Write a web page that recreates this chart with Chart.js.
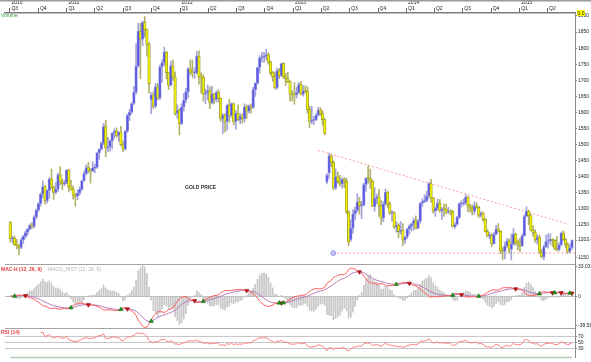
<!DOCTYPE html>
<html>
<head>
<meta charset="utf-8">
<title>Gold Price</title>
<script src="https://cdn.jsdelivr.net/npm/chart.js@4.4.1/dist/chart.umd.min.js"></script>
<style>
  html, body { margin:0; padding:0; background:#ffffff; }
  #wrap { position:relative; width:591px; height:362px; overflow:hidden; }
  #c { position:absolute; left:0; top:0; }
  .lbl { position:absolute; font-family:"Liberation Sans", Arial, sans-serif; font-size:5px; line-height:6px; white-space:nowrap; }
</style>
</head>
<body>
<div id="wrap">
  <canvas id="c" width="591" height="362"></canvas>
  <div class="lbl" style="left:1px;top:12.3px;color:#3a9a3a;">Volume</div>
  <div class="lbl" style="left:185px;top:184.3px;color:#333333;font-weight:bold;">GOLD PRICE</div>
  <div class="lbl" style="left:1px;top:266px;color:#e23c3c;font-weight:bold;">MAC-H (12, 26, 9)</div>
  <div class="lbl" style="left:48px;top:266px;color:#b4b4b4;">MACD_HIST (12, 26, 9)</div>
  <div class="lbl" style="left:1px;top:328.7px;color:#e23c3c;font-weight:bold;">RSI (14)</div>
  <div class="lbl" style="left:577px;top:10px;width:8px;height:6px;background:#ffff00;color:#222;text-align:center;">0.0</div>
</div>
<script>
// ---------- DATA (weekly OHLC, week ending Friday, first week ends 2010-07-02) ----------
const WEEK0 = '2010-07-02';

const opens = [
1258,1208,1210,1189,1188,1181,1204,1215,1227,1237,
1249,1246,1275,1297,1317,1346,1370,1326,1358,1393,
1367,1352,1362,1406,1384,1378,1380,1421,1369,1361,
1343,1340,1349,1361,1388,1410,1429,1421,1418,1428,
1429,1474,1486,1504,1556,1490,1493,1512,1536,1542,
1529,1539,1500,1486,1542,1591,1601,1628,1663,1744,
1852,1828,1880,1857,1812,1640,1655,1620,1680,1645,
1742,1755,1788,1724,1685,1745,1710,1597,1606,1565,
1617,1639,1665,1736,1725,1723,1724,1775,1711,1710,
1657,1662,1668,1630,1658,1641,1662,1644,1580,1592,
1572,1622,1591,1627,1572,1598,1578,1589,1581,1618,
1604,1620,1616,1671,1691,1740,1770,1773,1774,1780,
1757,1724,1711,1677,1730,1714,1752,1711,1704,1696,
1657,1656,1655,1662,1687,1657,1667,1666,1609,1572,
1576,1577,1592,1607,1597,1578,1385,1412,1465,1445,
1366,1400,1386,1378,1392,1386,1290,1205,1240,1285,
1296,1322,1310,1313,1376,1396,1395,1387,1308,1333,
1338,1310,1272,1315,1352,1315,1287,1288,1244,1250,
1230,1234,1203,1213,1238,1247,1254,1264,1240,1262,
1318,1323,1326,1340,1379,1334,1294,1303,1318,1294,
1301,1300,1290,1293,1291,1245,1252,1274,1316,1317,
1320,1337,1310,1303,1293,1310,1305,1280,1287,1268,
1230,1216,1218,1192,1221,1238,1231,1171,1168,1185,
1201,1175,1191,1222,1195,1194,1186,1217,1277,1293,
1279,1234,1227,1204,1212,1166,1152,1183,1199,1201,
1206,1203,1178,1174,1189,1225,1205,1189,1168,1180
];
const highs = [
1262,1215,1216,1206,1190,1210,1218,1232,1241,1254,
1258,1280,1300,1320,1350,1388,1373,1360,1398,1424,
1372,1383,1412,1431,1393,1390,1423,1424,1389,1372,
1348,1359,1369,1390,1418,1437,1445,1426,1447,1440,
1476,1488,1509,1566,1576,1523,1515,1537,1549,1552,
1541,1557,1511,1544,1594,1610,1632,1681,1814,1877,
1877,1884,1898,1860,1818,1662,1665,1690,1690,1748,
1764,1803,1790,1725,1760,1763,1726,1624,1613,1628,
1660,1675,1739,1764,1763,1739,1790,1792,1723,1718,
1672,1685,1680,1682,1660,1667,1671,1646,1597,1597,
1626,1640,1631,1630,1605,1624,1597,1596,1627,1624,
1624,1626,1678,1693,1741,1777,1788,1787,1796,1786,
1760,1728,1726,1738,1737,1754,1755,1722,1725,1699,
1667,1693,1678,1694,1696,1684,1683,1680,1620,1619,
1588,1597,1616,1615,1605,1582,1410,1474,1468,1450,
1425,1415,1405,1398,1397,1396,1295,1267,1298,1307,
1348,1336,1324,1380,1397,1434,1424,1390,1367,1346,
1361,1326,1322,1362,1356,1322,1295,1292,1261,1255,
1261,1255,1216,1240,1251,1256,1272,1279,1268,1320,
1332,1345,1355,1383,1392,1336,1307,1331,1330,1305,
1315,1315,1305,1298,1296,1257,1278,1320,1326,1332,
1345,1340,1315,1313,1322,1320,1308,1292,1291,1271,
1236,1227,1224,1227,1249,1255,1232,1180,1196,1208,
1207,1222,1239,1225,1204,1210,1223,1282,1307,1297,
1285,1248,1235,1220,1218,1174,1188,1219,1224,1223,
1209,1205,1214,1195,1228,1232,1210,1196,1191,1204
];
const lows = [
1198,1195,1187,1176,1157,1176,1192,1210,1219,1235,
1240,1241,1269,1292,1310,1335,1315,1318,1333,1365,
1330,1347,1355,1375,1360,1372,1378,1353,1359,1331,
1309,1329,1343,1358,1386,1406,1412,1380,1415,1413,
1426,1454,1484,1500,1462,1478,1480,1487,1520,1523,
1510,1496,1478,1483,1537,1575,1596,1625,1657,1741,
1705,1808,1834,1775,1660,1596,1612,1615,1640,1640,
1694,1746,1705,1671,1683,1700,1591,1582,1530,1562,
1605,1630,1647,1718,1709,1706,1720,1688,1660,1635,
1627,1640,1612,1627,1627,1633,1632,1572,1535,1540,
1545,1570,1585,1562,1548,1575,1565,1567,1571,1582,
1598,1598,1612,1650,1688,1722,1757,1756,1763,1750,
1718,1697,1673,1672,1705,1712,1705,1684,1693,1635,
1636,1626,1645,1660,1655,1651,1660,1598,1554,1565,
1562,1575,1589,1591,1560,1530,1378,1395,1432,1360,
1360,1380,1372,1365,1366,1285,1185,1200,1225,1268,
1291,1284,1270,1310,1355,1380,1364,1307,1293,1317,
1277,1251,1261,1312,1304,1283,1262,1240,1228,1211,
1222,1185,1193,1208,1221,1232,1234,1238,1239,1256,
1308,1320,1323,1334,1321,1287,1277,1297,1290,1268,
1277,1285,1285,1282,1244,1240,1250,1270,1306,1311,
1314,1292,1290,1282,1284,1302,1273,1275,1262,1228,
1213,1207,1183,1191,1220,1228,1161,1142,1145,1181,
1163,1142,1188,1187,1172,1167,1183,1216,1276,1251,
1232,1216,1197,1191,1163,1147,1142,1180,1178,1190,
1184,1173,1170,1169,1184,1202,1181,1162,1164,1175
];
const closes = [
1208,1210,1189,1188,1181,1204,1215,1227,1237,1249,
1246,1275,1297,1317,1346,1370,1326,1358,1393,1367,
1352,1362,1406,1384,1378,1380,1421,1369,1361,1343,
1340,1349,1361,1388,1410,1429,1421,1418,1428,1429,
1474,1486,1504,1556,1490,1493,1512,1536,1542,1529,
1539,1500,1486,1542,1591,1601,1628,1663,1744,1852,
1828,1880,1857,1812,1690,1655,1620,1680,1645,1742,
1755,1788,1724,1685,1745,1710,1597,1606,1565,1617,
1639,1665,1736,1725,1723,1724,1775,1711,1710,1657,
1662,1668,1630,1658,1641,1662,1644,1580,1592,1572,
1622,1591,1627,1572,1598,1578,1589,1581,1618,1604,
1620,1616,1671,1691,1740,1770,1773,1774,1780,1757,
1724,1711,1677,1730,1714,1752,1711,1704,1696,1657,
1656,1655,1662,1687,1657,1667,1666,1609,1572,1576,
1577,1592,1607,1597,1578,1535,1405,1465,1445,1366,
1400,1386,1378,1392,1386,1291,1198,1240,1285,1296,
1322,1310,1313,1376,1396,1395,1387,1308,1333,1338,
1310,1272,1315,1352,1315,1287,1288,1244,1250,1230,
1234,1203,1213,1238,1247,1254,1264,1240,1262,1318,
1323,1326,1340,1379,1334,1294,1303,1318,1294,1301,
1300,1290,1293,1291,1245,1252,1274,1316,1317,1320,
1337,1310,1303,1293,1310,1305,1280,1287,1268,1230,
1216,1218,1192,1221,1238,1231,1171,1168,1185,1201,
1175,1191,1222,1195,1194,1186,1217,1277,1293,1279,
1234,1227,1204,1212,1166,1152,1183,1199,1201,1206,
1203,1178,1174,1189,1225,1205,1189,1168,1180,1203
];

const quarterStarts = ['2010-07-01','2010-10-01','2011-01-01','2011-04-01','2011-07-01','2011-10-01',
  '2012-01-01','2012-04-01','2012-07-01','2012-10-01','2013-01-01','2013-04-01','2013-07-01','2013-10-01',
  '2014-01-01','2014-04-01','2014-07-01','2014-10-01','2015-01-01','2015-04-01'];
const quarterLabels = ['Q3','Q4','Q1','Q2','Q3','Q4','Q1','Q2','Q3','Q4','Q1','Q2','Q3','Q4','Q1','Q2','Q3','Q4','Q1','Q2'];
const yearLabels    = ['2010','','2011','','','','2012','','','','2013','','','','2014','','','','2015',''];

const priceTicks      = [1900,1850,1800,1750,1700,1650,1600,1550,1500,1450,1400,1350,1300,1250,1203.4,1150];
const priceTickLabels = ['1900','1850','1800','1750','1700','1650','1600','1550','1500','1450','1400','1350','1300','1250','1203.4','1150'];
const macdTickLabels  = ['33.03','0','-39.58'];
const rsiTicks        = [70,50,30];
const rsiTickLabels   = ['70','50','30'];

// drawn annotations (week index, price)
const trendX   = [142.0, 257.2];
const trendY   = [1482, 1253];
const supportX = [148.9, 260.4];
const supportY = [1163, 1163];

// ---------- derived series (indicators computed from closes) ----------
const FONT = '"Liberation Sans", Arial, sans-serif';
const DAY = 86400000;
const t0 = Date.parse(WEEK0 + 'T00:00:00Z');
const quarterVals = quarterStarts.map(d => (Date.parse(d + 'T00:00:00Z') - t0) / (7 * DAY));

function ema(src, n) {
  const k = 2 / (n + 1); const out = []; let e = src[0];
  src.forEach((v, i) => { e = i === 0 ? v : v * k + e * (1 - k); out.push(e); });
  return out;
}
const ema12 = ema(closes, 12), ema26 = ema(closes, 26);
const macd = closes.map((c, i) => ema12[i] - ema26[i]);
const signal = ema(macd, 9);
const hist = macd.map((m, i) => m - signal[i]);

const rsi = closes.map(() => null);
let ag = 0, al = 0;
for (let i = 1; i < closes.length; i++) {
  const ch = closes[i] - closes[i - 1];
  const g = Math.max(ch, 0), l = Math.max(-ch, 0);
  if (i <= 14) {
    ag += g; al += l;
    if (i === 14) { ag /= 14; al /= 14; rsi[i] = al === 0 ? 100 : 100 - 100 / (1 + ag / al); }
  } else {
    ag = (ag * 13 + g) / 14; al = (al * 13 + l) / 14;
    rsi[i] = al === 0 ? 100 : 100 - 100 / (1 + ag / al);
  }
}
const crossDown = [], crossUp = [];
for (let i = 1; i < hist.length; i++) {
  if (hist[i - 1] > 0 && hist[i] <= 0) crossDown.push({x: i, y: signal[i]});
  else if (hist[i - 1] < 0 && hist[i] >= 0) crossUp.push({x: i, y: signal[i]});
}
const H = Math.max(...hist.map(Math.abs)) * 1.02;
const M = Math.max(...macd.map(Math.abs)) * 1.02;

const isUp = i => closes[i] >= opens[i];
const idx = closes.map((c, i) => i);

// ---------- plugins ----------
const alignLine = {
  id: 'alignLine',
  afterLayout(chart) {
    const s = chart.scales.yLine, h = chart.scales.yMacd;
    s.top = h.top; s.bottom = h.bottom; s.height = h.height;
    s.configure();
  }
};
const decor = {
  id: 'decor',
  beforeDatasetsDraw(chart) {
    const {ctx, chartArea: a, scales} = chart;
    ctx.save();
    ctx.strokeStyle = '#a4a4a4'; ctx.lineWidth = 1;
    [scales.yMacd.top, scales.yRsi.top].forEach(y => {
      const yy = Math.round(y) + 0.5;
      ctx.beginPath(); ctx.moveTo(a.left, yy); ctx.lineTo(a.right, yy); ctx.stroke();
    });
    ctx.strokeStyle = '#9a9a9a'; ctx.lineWidth = 1.5;
    ctx.beginPath(); ctx.moveTo(0, 0.75); ctx.lineTo(591, 0.75); ctx.stroke();
    ctx.strokeStyle = '#b4ceb4'; ctx.lineWidth = 1.3;
    const x0 = scales.x.getPixelForValue(0), x1 = scales.x.getPixelForValue(closes.length - 1);
    ctx.beginPath(); ctx.moveTo(x0, 357.5); ctx.lineTo(x1, 357.5); ctx.stroke();
    ctx.restore();
  }
};

const tickFont = {family: FONT, size: 5, lineHeight: 1.2};

new Chart(document.getElementById('c'), {
  type: 'bar',
  data: {
    datasets: [
      { // wicks
        type: 'bar', yAxisID: 'yPrice', order: 3, grouped: false, barThickness: 1,
        data: idx.map(i => ({x: i, y: [lows[i], highs[i]]})),
        backgroundColor: ctx => isUp(ctx.dataIndex) ? '#a3a3da' : '#b2b26a',
        borderWidth: 0
      },
      { // bodies
        type: 'bar', yAxisID: 'yPrice', order: 2, grouped: false, barThickness: 2.6, minBarLength: 1,
        data: idx.map(i => ({x: i, y: [opens[i], closes[i]]})),
        backgroundColor: ctx => isUp(ctx.dataIndex) ? '#5858e0' : '#f0f000',
        borderColor: ctx => isUp(ctx.dataIndex) ? '#8e8ee4' : '#9c9c2c',
        borderWidth: 0.8, borderSkipped: false
      },
      { // MACD histogram
        type: 'bar', yAxisID: 'yMacd', order: 6, grouped: false, barThickness: 1,
        data: idx.map(i => ({x: i, y: hist[i]})),
        backgroundColor: '#c6c6c6', borderWidth: 0
      },
      { // MACD line
        type: 'line', yAxisID: 'yLine', order: 4,
        data: idx.map(i => ({x: i, y: macd[i]})),
        borderColor: '#ff5c5c', borderWidth: 1, pointRadius: 0, tension: 0
      },
      { // signal
        type: 'line', yAxisID: 'yLine', order: 5,
        data: idx.map(i => ({x: i, y: signal[i]})),
        borderColor: '#b67ab6', borderWidth: 1, pointRadius: 0, tension: 0
      },
      { // green triangles
        type: 'line', yAxisID: 'yLine', order: 0, showLine: false,
        data: crossDown, pointStyle: 'triangle', pointRadius: 2.4,
        pointBackgroundColor: '#1c9a1c', pointBorderColor: '#0c6a0c', pointBorderWidth: 0.6
      },
      { // red triangles
        type: 'line', yAxisID: 'yLine', order: 0, showLine: false,
        data: crossUp, pointStyle: 'triangle', pointRotation: 180, pointRadius: 2.4,
        pointBackgroundColor: '#c81414', pointBorderColor: '#8a0a0a', pointBorderWidth: 0.6
      },
      { // RSI
        type: 'line', yAxisID: 'yRsi', order: 4,
        data: idx.map(i => ({x: i, y: rsi[i]})),
        borderColor: '#ff7c7c', borderWidth: 1, pointRadius: 0, tension: 0, spanGaps: false
      },
      { // resistance trend line
        type: 'line', yAxisID: 'yPrice', order: 7,
        data: trendX.map((x, i) => ({x, y: trendY[i]})),
        borderColor: '#ff9a9a', borderWidth: 1, borderDash: [2, 2], pointRadius: 0
      },
      { // support line
        type: 'line', yAxisID: 'yPrice', order: 7,
        data: supportX.map((x, i) => ({x, y: supportY[i]})),
        borderColor: '#ff9a9a', borderWidth: 1, borderDash: [2, 2],
        pointRadius: ctx => ctx.dataIndex === 0 ? 2.3 : 0,
        pointBackgroundColor: 'rgba(190,190,255,0.6)', pointBorderColor: '#8080e8', pointBorderWidth: 1
      }
    ]
  },
  options: {
    responsive: false, animation: false, devicePixelRatio: 1, events: [],
    layout: {padding: {left: 0, right: 0, top: 0, bottom: 4}},
    plugins: {legend: {display: false}, tooltip: {enabled: false}, title: {display: false}},
    scales: {
      x: {
        type: 'linear', position: 'top', min: -2.43, max: 260.37, offset: false,
        afterBuildTicks: s => { s.ticks = quarterVals.map(v => ({value: v})); },
        afterFit: s => { s.height = 13; },
        ticks: {
          autoSkip: false, maxRotation: 0, minRotation: 0, align: 'start', padding: -3.5, labelOffset: 1.5,
          font: tickFont, color: '#222',
          callback: (v, i) => [yearLabels[i], quarterLabels[i]]
        },
        grid: {offset: false, drawOnChartArea: false, drawTicks: true, tickLength: 5, color: '#666', tickColor: '#666'},
        border: {display: true, color: '#7c7c7c', width: 1.5}
      },
      yPrice: {
        type: 'linear', position: 'right', stack: 'panels', stackWeight: 252, min: 1128.3, max: 1909.3,
        afterBuildTicks: s => { s.ticks = priceTicks.map(v => ({value: v})); },
        afterFit: s => { s.width = 16; },
        ticks: {autoSkip: false, padding: 1, font: tickFont, color: '#222', callback: (v, i) => priceTickLabels[i]},
        grid: {drawOnChartArea: false, drawTicks: true, tickLength: 2, tickColor: '#888'},
        border: {display: true, color: '#8a8a8a', width: 1}
      },
      yMacd: {
        type: 'linear', position: 'right', stack: 'panels', stackWeight: 64, min: -H, max: H,
        afterBuildTicks: s => { s.ticks = [{value: H * 0.92}, {value: 0}, {value: -H * 0.92}]; },
        afterFit: s => { s.width = 16; },
        ticks: {autoSkip: false, padding: 1, font: tickFont, color: '#222', callback: (v, i) => macdTickLabels[i]},
        grid: {
          drawOnChartArea: true, drawTicks: true, tickLength: 2, tickColor: '#888',
          color: ctx => (ctx.tick && ctx.tick.value === 0) ? '#bdbdbd' : 'rgba(0,0,0,0)'
        },
        border: {display: true, color: '#8a8a8a', width: 1}
      },
      yLine: {
        type: 'linear', position: 'right', display: false, reverse: true, min: -M, max: M
      },
      yRsi: {
        type: 'linear', position: 'right', stack: 'panels', stackWeight: 29, min: 0, max: 100,
        afterBuildTicks: s => { s.ticks = rsiTicks.map(v => ({value: v})); },
        afterFit: s => { s.width = 16; },
        ticks: {autoSkip: false, padding: 1, font: tickFont, color: '#222', callback: (v, i) => rsiTickLabels[i]},
        grid: {drawOnChartArea: true, drawTicks: true, tickLength: 2, tickColor: '#888', color: '#c8c8c8'},
        border: {display: true, color: '#8a8a8a', width: 1}
      }
    }
  },
  plugins: [alignLine, decor]
});
</script>
</body>
</html>
